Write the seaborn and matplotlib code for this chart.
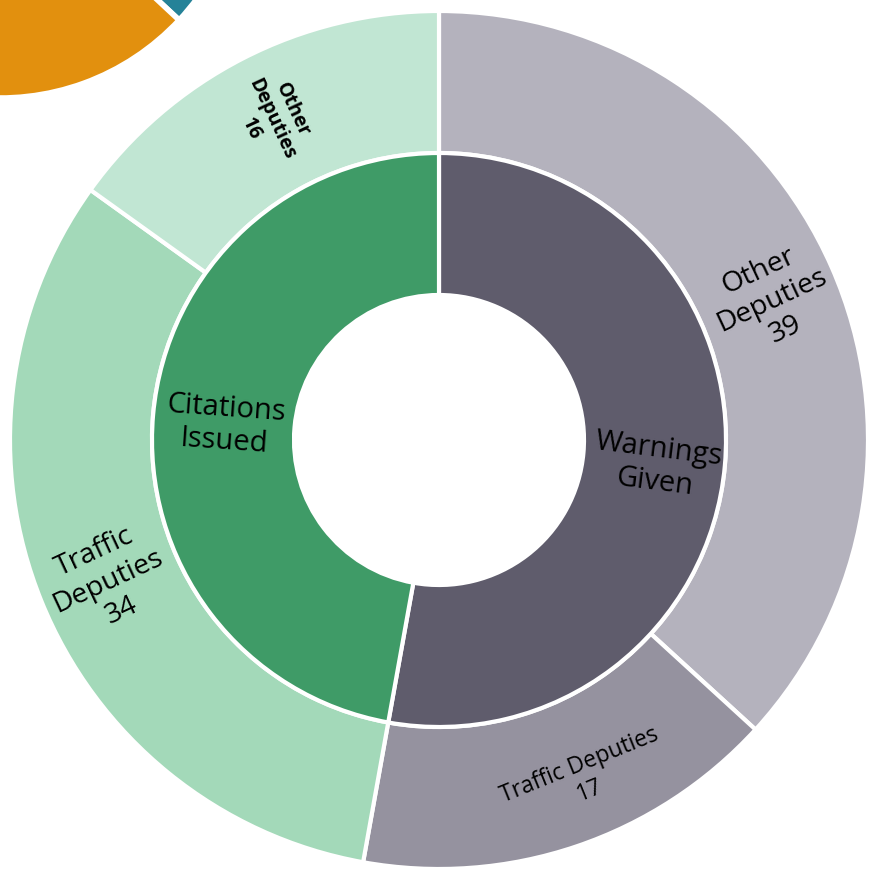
import matplotlib
matplotlib.use("Agg")
import matplotlib.pyplot as plt
import seaborn as sns

# --- DATA ---
groups = ["Warnings\nGiven", "Citations\nIssued"]
sub_labels = ["Other\nDeputies", "Traffic Deputies", "Traffic\nDeputies", "Other\nDeputies"]
sub_values = [39, 17, 34, 16]
sub_group = [0, 0, 1, 1]

# neighbouring chart, only a corner of it shows
neighbor_values = [30, 40, 30]

# --- STYLE ---
sns.set_style("white")
plt.rcParams["font.family"] = ["Open Sans", "Noto Sans", "DejaVu Sans"]

group_colors = ["#5f5c6c", "#3f9b67"]
sub_colors = ["#b4b2bd", "#95929f", "#a3d9b9", "#c1e6d3"]
neighbor_colors = ["#258298", "#cccccc", "#e2900e"]

group_values = [sum(v for v, g in zip(sub_values, sub_group) if g == i) for i in range(len(groups))]

fig = plt.figure(figsize=(8.69, 8.73), dpi=100)

# --- NEIGHBOUR PIE (cropped, top left) ---
ax2 = fig.add_axes([-0.282, 0.8877, 0.5639, 0.5613])
ax2.pie(neighbor_values, colors=neighbor_colors, startangle=-43, radius=1,
        wedgeprops=dict(edgecolor="white", linewidth=4))
ax2.set_xlim(-1, 1)
ax2.set_ylim(-1, 1)
ax2.axis("off")

# --- MAIN SUNBURST ---
R = 429
ax = fig.add_axes([(439 - R) / 869, (873 - 440 - R) / 873, 2 * R / 869, 2 * R / 873])

ring = 142 / R
ax.pie(sub_values, colors=sub_colors, radius=1.0, startangle=90, counterclock=False,
       wedgeprops=dict(width=ring, edgecolor="white", linewidth=3))
ax.pie(group_values, colors=group_colors, radius=1.0 - ring, startangle=90, counterclock=False,
       wedgeprops=dict(width=ring, edgecolor="white", linewidth=3))
ax.set_xlim(-1, 1)
ax.set_ylim(-1, 1)
ax.axis("off")

# label layout: (x, y, rotation, size, weight)
sub_label_pos = [
    (0.776, 0.325, 25, 20.5, "normal"),
    (0.340, -0.788, 22, 16.5, "normal"),
    (-0.772, -0.330, 25, 20.5, "normal"),
    (-0.390, 0.748, -65, 14, "bold"),
]
group_label_pos = [
    (0.507, -0.060, -7, 21),
    (-0.499, 0.034, -4, 21),
]

for lab, val, (x, y, rot, fs, fw) in zip(sub_labels, sub_values, sub_label_pos):
    ax.text(x, y, f"{lab}\n{val}", ha="center", va="center", multialignment="center",
            rotation=rot, rotation_mode="anchor", fontsize=fs, fontweight=fw,
            color="black", linespacing=1.2)

for lab, (x, y, rot, fs) in zip(groups, group_label_pos):
    ax.text(x, y, lab, ha="center", va="center", multialignment="center",
            rotation=rot, rotation_mode="anchor", fontsize=fs, color="black",
            linespacing=1.2)

fig.savefig("out.png", dpi=100)
